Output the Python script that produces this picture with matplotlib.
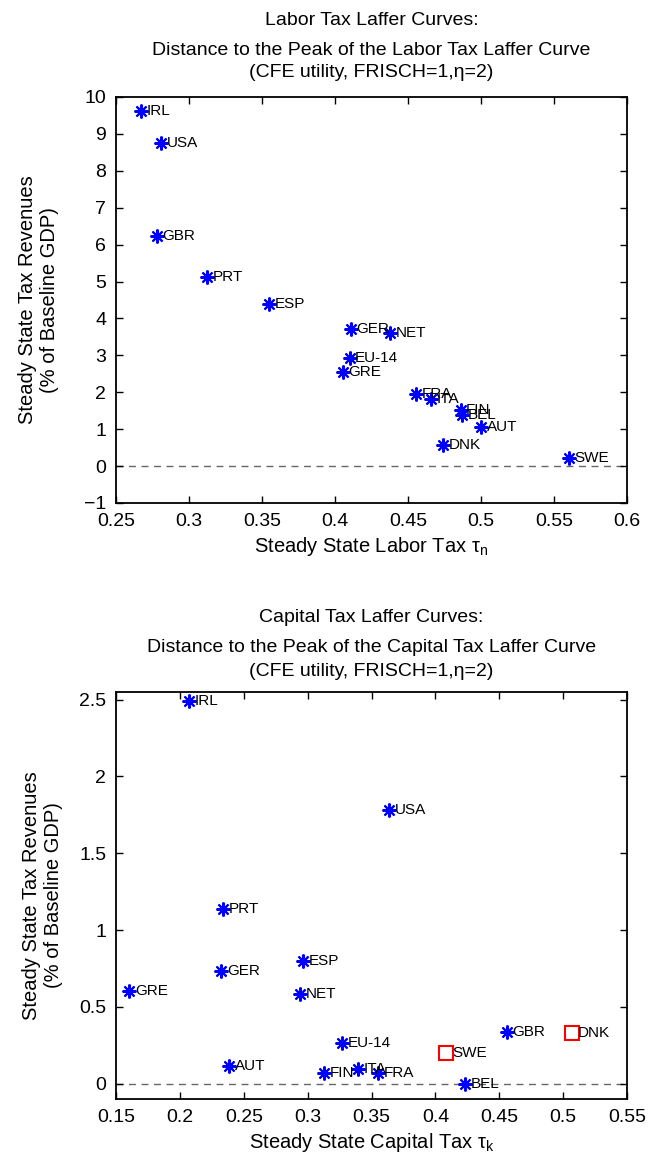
#
# laffer_distance.py
#   - Distance to the peak of the labor / capital tax Laffer curves.
#

import matplotlib
matplotlib.use("Agg")
import matplotlib.pyplot as plt

plt.rcParams["font.family"] = ["Liberation Sans", "DejaVu Sans"]
plt.rcParams["mathtext.fontset"] = "custom"
plt.rcParams["mathtext.rm"] = "Liberation Sans"
plt.rcParams["mathtext.it"] = "Liberation Sans:italic"

# labor tax panel
labor_countries = ["IRL", "USA", "GBR", "PRT", "ESP", "GER", "NET", "EU-14", "GRE",
                   "FRA", "ITA", "FIN", "BEL", "AUT", "DNK", "SWE"]
labor_tax = [0.267, 0.281, 0.278, 0.3125, 0.355, 0.411, 0.438, 0.410, 0.4055,
             0.4555, 0.466, 0.486, 0.487, 0.500, 0.474, 0.560]
labor_dist = [9.62, 8.75, 6.24, 5.12, 4.38, 3.70, 3.61, 2.94, 2.56,
              1.95, 1.81, 1.51, 1.38, 1.05, 0.57, 0.23]

# capital tax panel (blue stars)
cap_countries = ["IRL", "USA", "PRT", "GRE", "GER", "ESP", "NET", "EU-14",
                 "AUT", "FIN", "ITA", "FRA", "BEL", "GBR"]
cap_tax = [0.207, 0.364, 0.234, 0.1605, 0.2325, 0.2965, 0.294, 0.327,
           0.2385, 0.313, 0.3395, 0.355, 0.4235, 0.456]
cap_dist = [2.49, 1.785, 1.138, 0.604, 0.735, 0.80, 0.583, 0.267,
            0.115, 0.072, 0.093, 0.067, 0.0, 0.339]

# capital tax panel (red squares)
cap_sq_countries = ["SWE", "DNK"]
cap_sq_tax = [0.4086, 0.507]
cap_sq_dist = [0.202, 0.333]

labor_xticks = [0.25, 0.3, 0.35, 0.4, 0.45, 0.5, 0.55, 0.6]
labor_yticks = list(range(-1, 11))
cap_xticks = [0.15, 0.2, 0.25, 0.3, 0.35, 0.4, 0.45, 0.5, 0.55]
cap_yticks = [0, 0.5, 1, 1.5, 2, 2.5]

ASTERISK = (8, 2, 0)
YLABEL = "Steady State Tax Revenues\n(% of Baseline GDP)"
TITLE_X = 0.568


def fmt(v):
    return ("%g" % v).replace("-", "\u2212")


def style_axes(ax, xticks, yticks):
    ax.set_xticks(xticks)
    ax.set_xticklabels([fmt(t) for t in xticks])
    ax.set_yticks(yticks)
    ax.set_yticklabels([fmt(t) for t in yticks])
    ax.tick_params(direction="in", top=True, right=True, length=5, width=1,
                   labelsize=14, pad=7)
    for s in ax.spines.values():
        s.set_linewidth(1.3)
    ax.axhline(0, color="0.4", linestyle=(0, (5, 4)), linewidth=1, zorder=1)


def label_points(ax, xs, ys, names):
    for x, y, n in zip(xs, ys, names):
        ax.annotate(n, (x, y), xytext=(4, 0), textcoords="offset points",
                    va="center", ha="left", fontsize=11)


def titles(fig, ys, lines):
    for y, line in zip(ys, lines):
        fig.text(TITLE_X, y, line, ha="center", va="center", fontsize=14)


def main():
    fig = plt.figure(figsize=(6.54, 11.64), dpi=100)

    # ---- labor tax ----
    ax1 = fig.add_axes([0.1774, 0.5679, 0.7813, 0.3488])
    ax1.plot(labor_tax, labor_dist, linestyle="none", marker=ASTERISK,
             markersize=10, markeredgewidth=1.5, color="blue", zorder=3)
    label_points(ax1, labor_tax, labor_dist, labor_countries)
    ax1.set_xlim(0.25, 0.6)
    ax1.set_ylim(-1, 10)
    style_axes(ax1, labor_xticks, labor_yticks)
    ax1.set_xlabel("Steady State Labor Tax \u03c4$_\\mathregular{n}$", fontsize=14.5)
    ax1.set_ylabel(YLABEL, fontsize=14.5, labelpad=18)

    titles(fig, [0.9828, 0.9570, 0.9381],
           ["Labor Tax Laffer Curves:",
            "Distance to the Peak of the Labor Tax Laffer Curve",
            "(CFE utility, FRISCH=1,\u03b7=2)"])

    # ---- capital tax ----
    ax2 = fig.add_axes([0.1774, 0.0558, 0.7813, 0.3497])
    ax2.plot(cap_tax, cap_dist, linestyle="none", marker=ASTERISK,
             markersize=10, markeredgewidth=1.5, color="blue", zorder=3)
    ax2.plot(cap_sq_tax, cap_sq_dist, linestyle="none", marker="s",
             markersize=9.5, markeredgewidth=1.5, markerfacecolor="none",
             markeredgecolor="red", zorder=3)
    label_points(ax2, cap_tax, cap_dist, cap_countries)
    label_points(ax2, cap_sq_tax, cap_sq_dist, cap_sq_countries)
    ax2.set_xlim(0.15, 0.55)
    ax2.set_ylim(-0.1, 2.55)
    style_axes(ax2, cap_xticks, cap_yticks)
    ax2.set_xlabel("Steady State Capital Tax \u03c4$_\\mathregular{k}$", fontsize=14.5)
    ax2.set_ylabel(YLABEL, fontsize=14.5, labelpad=12)

    titles(fig, [0.4691, 0.4433, 0.4235],
           ["Capital Tax Laffer Curves:",
            "Distance to the Peak of the Capital Tax Laffer Curve",
            "(CFE utility, FRISCH=1,\u03b7=2)"])

    fig.savefig("out.png", dpi=100)


if __name__ == '__main__':
    main()
